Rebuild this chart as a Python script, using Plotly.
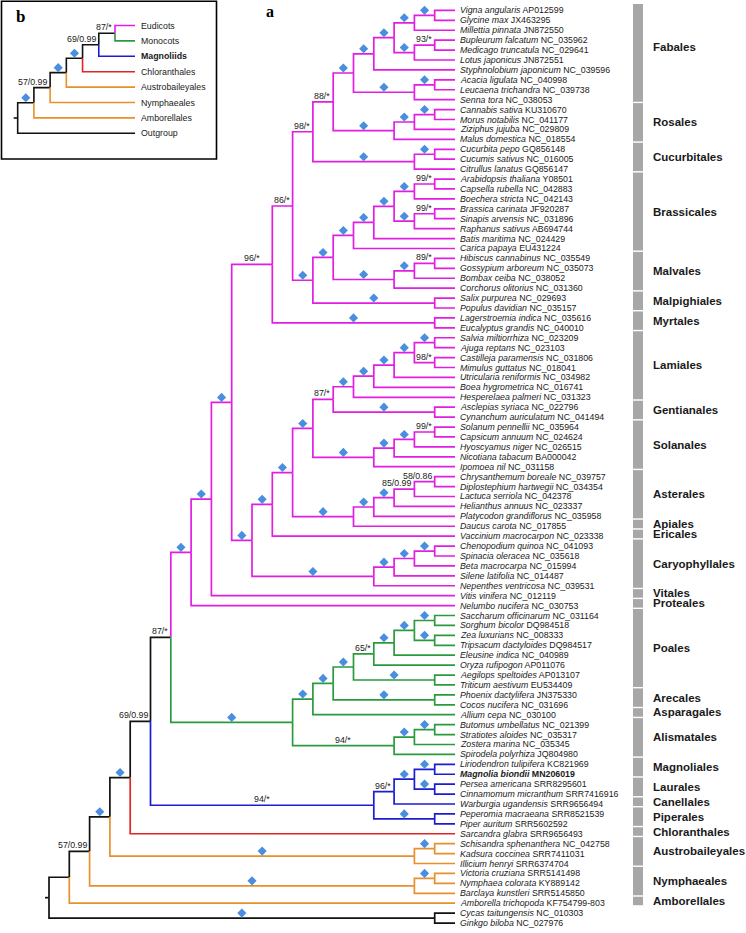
import plotly.graph_objects as go

# ------------------------------------------------------------------ data
SPECIES = [
    "Vigna angularis", "Glycine max", "Millettia pinnata", "Bupleurum falcatum",
    "Medicago truncatula", "Lotus japonicus", "Styphnolobium japonicum", "Acacia ligulata",
    "Leucaena trichandra", "Senna tora", "Cannabis sativa", "Morus notabilis",
    "Ziziphus jujuba", "Malus domestica", "Cucurbita pepo", "Cucumis sativus",
    "Citrullus lanatus", "Arabidopsis thaliana", "Capsella rubella", "Boechera stricta",
    "Brassica carinata", "Sinapis arvensis", "Raphanus sativus", "Batis maritima",
    "Carica papaya", "Hibiscus cannabinus", "Gossypium arboreum", "Bombax ceiba",
    "Corchorus olitorius", "Salix purpurea", "Populus davidian", "Lagerstroemia indica",
    "Eucalyptus grandis", "Salvia miltiorrhiza", "Ajuga reptans", "Castilleja paramensis",
    "Mimulus guttatus", "Utricularia reniformis", "Boea hygrometrica", "Hesperelaea palmeri",
    "Asclepias syriaca", "Cynanchum auriculatum", "Solanum pennellii", "Capsicum annuum",
    "Hyoscyamus niger", "Nicotiana tabacum", "Ipomoea nil", "Chrysanthemum boreale",
    "Diplostephium hartwegii", "Lactuca serriola", "Helianthus annuus", "Platycodon grandiflorus",
    "Daucus carota", "Vaccinium macrocarpon", "Chenopodium quinoa", "Spinacia oleracea",
    "Beta macrocarpa", "Silene latifolia", "Nepenthes ventricosa", "Vitis vinifera",
    "Nelumbo nucifera", "Saccharum officinarum", "Sorghum bicolor", "Zea luxurians",
    "Tripsacum dactyloides", "Eleusine indica", "Oryza rufipogon", "Aegilops speltoides",
    "Triticum aestivum", "Phoenix dactylifera", "Cocos nucifera", "Allium cepa",
    "Butomus umbellatus", "Stratiotes aloides", "Zostera marina", "Spirodela polyrhiza",
    "Liriodendron tulipifera", "Magnolia biondii", "Persea americana", "Cinnamomum micranthum",
    "Warburgia ugandensis", "Peperomia macraeana", "Piper auritum", "Sarcandra glabra",
    "Schisandra sphenanthera", "Kadsura coccinea", "Illicium henryi", "Victoria cruziana",
    "Nymphaea colorata", "Barclaya kunstleri", "Amborella trichopoda", "Cycas taitungensis",
    "Ginkgo biloba",
]
ACCESSIONS = [
    "AP012599", "JX463295", "JN872550", "NC_035962", "NC_029641", "JN872551", "NC_039596",
    "NC_040998", "NC_039738", "NC_038053", "KU310670", "NC_041177", "NC_029809", "NC_018554",
    "GQ856148", "NC_016005", "GQ856147", "Y08501", "NC_042883", "NC_042143", "JF920287",
    "NC_031896", "AB694744", "NC_024429", "EU431224", "NC_035549", "NC_035073", "NC_038052",
    "NC_031360", "NC_029693", "NC_035157", "NC_035616", "NC_040010", "NC_023209", "NC_023103",
    "NC_031806", "NC_018041", "NC_034982", "NC_016741", "NC_031323", "NC_022796", "NC_041494",
    "NC_035964", "NC_024624", "NC_026515", "BA000042", "NC_031158", "NC_039757", "NC_034354",
    "NC_042378", "NC_023337", "NC_035958", "NC_017855", "NC_023338", "NC_041093", "NC_035618",
    "NC_015994", "NC_014487", "NC_039531", "NC_012119", "NC_030753", "NC_031164", "DQ984518",
    "NC_008333", "DQ984517", "NC_040989", "AP011076", "AP013107", "EU534409", "JN375330",
    "NC_031696", "NC_030100", "NC_021399", "NC_035317", "NC_035345", "JQ804980", "KC821969",
    "MN206019", "SRR8295601", "SRR7416916", "SRR9656494", "SRR8521539", "SRR5602592",
    "SRR9656493", "NC_042758", "SRR7411031", "SRR6374704", "SRR5141498", "KY889142",
    "SRR5145850", "KF754799-803", "NC_010303", "NC_027976",
]
HIGHLIGHT_SPECIES = "Magnolia biondii"

ORDER_NAMES = [
    "Fabales", "Rosales", "Cucurbitales", "Brassicales", "Malvales", "Malpighiales",
    "Myrtales", "Lamiales", "Gentianales", "Solanales", "Asterales", "Apiales", "Ericales",
    "Caryophyllales", "Vitales", "Proteales", "Poales", "Arecales", "Asparagales",
    "Alismatales", "Magnoliales", "Laurales", "Canellales", "Piperales", "Chloranthales",
    "Austrobaileyales", "Nymphaeales", "Amborellales",
]
ORDER_SIZES = [10, 4, 3, 8, 4, 2, 2, 7, 2, 5, 5, 1, 1, 5, 1, 1, 8, 2, 1, 4, 2, 2, 1, 2, 1, 3, 3, 1]
ORDER_GROUPS = ["eud"] * 16 + ["mono"] * 4 + ["mag"] * 4 + ["chl"] + ["ana"] * 3
OUTGROUP_SIZE = 2

# topology (leaf numbers refer to SPECIES, 1-based); D = fully supported node (diamond)
FABALES = "(((((1,2)D,3)D,((4,5)'93/*',6)D)D,7)D,((8,9)D,10)D)D"
ROSALES = "(((11,12)D,13)D,14)D"
CUCURBITALES = "((15,16)D,17)D"
BRASSICALES = "(((((18,19)'99/*',20)D,((21,22)'99/*',23)D)D,24)D,25)D"
MALVALES = "(((26,27)'89/*',28)D,29)D"
MALPIGHIALES = "(30,31)D"
MYRTALES = "(32,33)D"
LAMIALES = "(((((34,35)D,(36,37)'98/*')D,38)D,39)D,40)D"
GENTIANALES = "(41,42)D"
SOLANALES = "((((43,44)'99/*',45)D,46)D,47)D"
ASTERALES_APIALES = "(((((48,49)'58/0.86',50)'85/0.99',51)D,52)D,53)D"
CARYOPHYLLALES = "((((55,56)D,57)D,58)D,59)D"
POALES = "(((((62,63)D,(64,65)D)D,66)D,67)'65/*',(68,69)D)D"
ARECALES = "(70,71)D"
ALISMATALES = "(((73,74)D,75)D,76)'94/*'"
MAGNOLIIDS = "((((77,78)D,(79,80)D)D,81)'96/*',(82,83)D)'94/*'"
AUSTROBAILEYALES = "((85,86)D,87)D"
NYMPHAEALES = "((88,89)D,90)D"
OUTGROUP = "(92,93)D"

ROSIDS = ("((((" + FABALES + "," + ROSALES + ")'88/*'," + CUCURBITALES + ")'98/*',(("
          + BRASSICALES + "," + MALVALES + ")D," + MALPIGHIALES + ")D)'86/*'," + MYRTALES + ")'96/*'")
ASTERIDS = ("((((" + LAMIALES + "," + GENTIANALES + ")'87/*'," + SOLANALES + ")D,"
            + ASTERALES_APIALES + ")D,54)D")
EUDICOTS = "(((" + ROSIDS + ",(" + ASTERIDS + "," + CARYOPHYLLALES + ")D)D,60)D,61)D"
MONOCOTS = "(((" + POALES + "," + ARECALES + ")D,72)D," + ALISMATALES + ")D"
MAIN_TREE = ("(((((((" + EUDICOTS + "," + MONOCOTS + ")'87/*'," + MAGNOLIIDS + ")'69/0.99',84)D,"
             + AUSTROBAILEYALES + ")D," + NYMPHAEALES + ")'57/0.99',91)," + OUTGROUP + ")")

INSET_LEAVES = ["Eudicots", "Monocots", "Magnoliids", "Chloranthales", "Austrobaileyales",
                "Nymphaeales", "Amborellales", "Outgroup"]
INSET_GROUPS = ["eud", "mono", "mag", "chl", "ana", "ana", "ana", "out"]
INSET_BOLD = ["Magnoliids"]
INSET_TREE = "(((((((1,2)'87/*',3)'69/0.99',4)D,5)D,6)'57/0.99',7)D,8)"

# ------------------------------------------------------------------ style
GROUP_COLORS = {"eud": "#e11ee1", "mono": "#2b9a3c", "mag": "#1c1cd2", "chl": "#e12525",
                "ana": "#e8902c", "out": "#111111"}
MIXED_COLOR = "#111111"
DIAMOND_COLOR = "#4a8ee0"
BAR_COLOR = "#a7a7a7"
TEXT_COLOR = "#1a1a1a"
FONT = "Liberation Sans, Arial, Helvetica, sans-serif"
SERIF = "Liberation Serif, DejaVu Serif, serif"
W, H = 746, 933

# pixel geometry of the two panels
MAIN = dict(tip_px=455, step_px=20.3, first_px=20.3, y0_px=10.4, dy_px=9.92)
INSET = dict(tip_px=135, step_px=16.22, first_px=20.0, y0_px=25.5, dy_px=15.4)


def parse(s):
    pos = 0

    def node():
        nonlocal pos
        if s[pos] == "(":
            pos += 1
            kids = [node()]
            while s[pos] == ",":
                pos += 1
                kids.append(node())
            pos += 1  # ')'
            label = None
            if pos < len(s) and s[pos] == "'":
                end = s.index("'", pos + 1)
                label = s[pos + 1:end]
                pos = end + 1
            elif pos < len(s) and s[pos] == "D":
                label = "D"
                pos += 1
            return {"kids": kids, "label": label}
        start = pos
        while pos < len(s) and s[pos].isdigit():
            pos += 1
        return {"leaf": int(s[start:pos]) - 1}

    return node()


def layout(n, groups, first_units):
    if "leaf" in n:
        n["h"] = 0
        n["y"] = n["leaf"]
        n["grp"] = {groups[n["leaf"]]}
        n["x"] = 0.0
        return
    for k in n["kids"]:
        layout(k, groups, first_units)
    n["h"] = 1 + max(k["h"] for k in n["kids"])
    ys = [k["y"] for k in n["kids"]]
    n["y"] = (min(ys) + max(ys)) / 2
    n["grp"] = set().union(*[k["grp"] for k in n["kids"]])
    n["x"] = -(first_units + n["h"] - 1)


def color_of(n):
    return GROUP_COLORS[next(iter(n["grp"]))] if len(n["grp"]) == 1 else MIXED_COLOR


def collect(root, geom, xref, yref):
    """Return line segments per colour, diamonds, support labels."""
    segs, dia_x, dia_y, labels = {}, [], [], []
    lift = 5.0 / geom["dy_px"]

    def walk(n):
        if "leaf" in n:
            return
        for k in n["kids"]:
            c = color_of(k)
            xs, ys = segs.setdefault(c, ([], []))
            xs += [n["x"], n["x"], k["x"], None]
            ys += [n["y"], k["y"], k["y"], None]
            if "leaf" not in k and k["label"]:
                mid = (n["x"] + k["x"]) / 2
                if k["label"] == "D":
                    dia_x.append(mid)
                    dia_y.append(k["y"] - lift)
                else:
                    short = (k["x"] - n["x"]) < 1.6
                    labels.append(dict(
                        x=k["x"] if short else mid, y=k["y"], xref=xref, yref=yref,
                        text=k["label"], showarrow=False,
                        xanchor="right" if short else "center", xshift=-1 if short else 0,
                        yanchor="bottom", yshift=-1,
                        font=dict(family=FONT, size=8.8, color=TEXT_COLOR)))
            walk(k)

    walk(root)
    # root stub
    stub = 4.0 / geom["step_px"]
    xs, ys = segs.setdefault(MIXED_COLOR, ([], []))
    xs += [root["x"] - stub, root["x"], None]
    ys += [root["y"], root["y"], None]
    return segs, dia_x, dia_y, labels


def ranges(geom):
    xr = [-geom["tip_px"] / geom["step_px"], (W - geom["tip_px"]) / geom["step_px"]]
    yr = [(H - geom["y0_px"]) / geom["dy_px"], -geom["y0_px"] / geom["dy_px"]]
    return xr, yr


fig = go.Figure()
annotations = []
shapes = []

# ---------------------------------------------------------------- main tree
leaf_groups = []
for g, n in zip(ORDER_GROUPS, ORDER_SIZES):
    leaf_groups += [g] * n
leaf_groups += ["out"] * OUTGROUP_SIZE

main_root = parse(MAIN_TREE)
layout(main_root, leaf_groups, MAIN["first_px"] / MAIN["step_px"])
segs, dx, dy, labs = collect(main_root, MAIN, "x", "y")
for c, (xs, ys) in segs.items():
    fig.add_trace(go.Scatter(x=xs, y=ys, mode="lines", line=dict(color=c, width=1.7),
                             hoverinfo="skip", showlegend=False, xaxis="x", yaxis="y"))
fig.add_trace(go.Scatter(x=dx, y=dy, mode="markers",
                         marker=dict(symbol="diamond", size=7, color=DIAMOND_COLOR, line=dict(width=0)),
                         hoverinfo="skip", showlegend=False, xaxis="x", yaxis="y"))
annotations += labs

for i, (sp, acc) in enumerate(zip(SPECIES, ACCESSIONS)):
    txt = "<i>%s</i> %s" % (sp, acc)
    if sp == HIGHLIGHT_SPECIES:
        txt = "<b>%s</b>" % txt
    annotations.append(dict(x=0, y=i, xref="x", yref="y", text=txt, showarrow=False,
                            xanchor="left", xshift=3, yanchor="middle",
                            font=dict(family=FONT, size=8.8, color=TEXT_COLOR)))

# order bars and names
px2x = lambda px: (px - MAIN["tip_px"]) / MAIN["step_px"]
LABEL_NUDGE_PX = {"Fabales": -6}
start = 0
for name, size in zip(ORDER_NAMES, ORDER_SIZES):
    first, last = start, start + size - 1
    top = first - 6.5 / MAIN["dy_px"]
    bot = last + 2.0 / MAIN["dy_px"]
    shapes.append(dict(type="rect", xref="x", yref="y", x0=px2x(633), x1=px2x(643),
                       y0=top, y1=bot, fillcolor=BAR_COLOR, line=dict(width=0), layer="below"))
    annotations.append(dict(x=px2x(651), y=(top + bot) / 2, xref="x", yref="y",
                            text="<b>%s</b>" % name, showarrow=False, xanchor="left",
                            yanchor="middle", yshift=-LABEL_NUDGE_PX.get(name, 0),
                            font=dict(family=FONT, size=11.5, color=TEXT_COLOR)))
    start += size

# ---------------------------------------------------------------- inset tree
inset_root = parse(INSET_TREE)
layout(inset_root, INSET_GROUPS, INSET["first_px"] / INSET["step_px"])
segs, dx, dy, labs = collect(inset_root, INSET, "x2", "y2")
for c, (xs, ys) in segs.items():
    fig.add_trace(go.Scatter(x=xs, y=ys, mode="lines", line=dict(color=c, width=1.6),
                             hoverinfo="skip", showlegend=False, xaxis="x2", yaxis="y2"))
fig.add_trace(go.Scatter(x=dx, y=dy, mode="markers",
                         marker=dict(symbol="diamond", size=7, color=DIAMOND_COLOR, line=dict(width=0)),
                         hoverinfo="skip", showlegend=False, xaxis="x2", yaxis="y2"))
annotations += labs
for i, name in enumerate(INSET_LEAVES):
    txt = "<b>%s</b>" % name if name in INSET_BOLD else name
    annotations.append(dict(x=0, y=i, xref="x2", yref="y2", text=txt, showarrow=False,
                            xanchor="left", xshift=4, yanchor="middle",
                            font=dict(family=FONT, size=8.8, color=TEXT_COLOR)))

shapes.append(dict(type="rect", xref="paper", yref="paper",
                   x0=1.5 / W, x1=216.5 / W, y0=1 - 159 / H, y1=1 - 1.2 / H,
                   line=dict(color="#000000", width=1.6), fillcolor="rgba(0,0,0,0)"))

# panel letters
annotations.append(dict(x=270 / W, y=1 - 1 / H, xref="paper", yref="paper", text="<b>a</b>",
                        showarrow=False, xanchor="center", yanchor="top",
                        font=dict(family=SERIF, size=16, color="#000000")))
annotations.append(dict(x=20 / W, y=1 - 16 / H, xref="paper", yref="paper", text="<b>b</b>",
                        showarrow=False, xanchor="center", yanchor="middle",
                        font=dict(family=SERIF, size=17, color="#000000")))

mx, my = ranges(MAIN)
ix, iy = ranges(INSET)
axis_off = dict(visible=False, showgrid=False, zeroline=False, fixedrange=True)
fig.update_layout(
    width=W, height=H, autosize=False,
    margin=dict(l=0, r=0, t=0, b=0, pad=0),
    paper_bgcolor="white", plot_bgcolor="white",
    xaxis=dict(range=mx, domain=[0, 1], **axis_off),
    yaxis=dict(range=my, domain=[0, 1], **axis_off),
    xaxis2=dict(range=ix, overlaying="x", anchor="y2", **axis_off),
    yaxis2=dict(range=iy, overlaying="y", anchor="x2", **axis_off),
    annotations=annotations, shapes=shapes, showlegend=False,
)

fig.write_html(
    "out.html",
    config={"displayModeBar": False},
    post_script="document.body.style.margin='0';document.body.style.padding='0';"
                "document.body.style.overflow='hidden';",
)
